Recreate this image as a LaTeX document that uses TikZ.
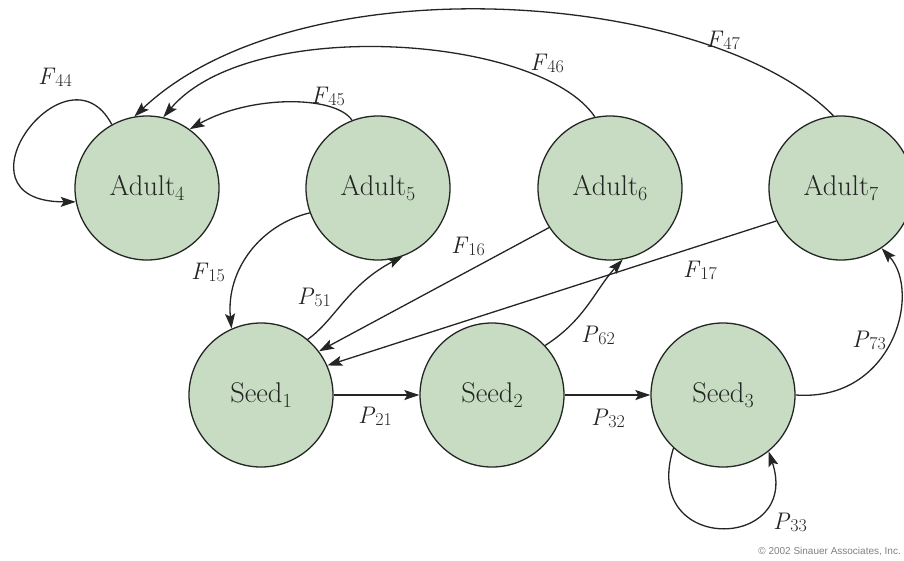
\documentclass[tikz,border=0pt]{standalone}
\usepackage{fontspec}
\newfontfamily\copyfont{Liberation Sans}
\usetikzlibrary{arrows.meta}
\definecolor{nodefill}{RGB}{200,220,196}
\definecolor{ink}{RGB}{35,38,35}
\newcommand{\mylab}[2]{{\fontsize{24}{27}\selectfont\itshape #1\/}\raisebox{-0.45ex}{\fontsize{18}{18}\selectfont #2}}
\newcommand{\mynm}[2]{#1\raisebox{-0.4ex}{\fontsize{20}{20}\selectfont #2}}
\begin{document}
\begin{tikzpicture}[x=1pt,y=-1pt,
  state/.style={circle, draw=ink, fill=nodefill, line width=1.3pt, minimum size=144pt, inner sep=0pt, font=\fontsize{28.5}{31}\selectfont, text=ink},
  conn/.style={draw=ink, line width=1.3pt, -{Stealth[length=15pt,width=10pt,inset=3pt]}},
  lbl/.style={text=ink, inner sep=0pt}]
\useasboundingbox (0,0) rectangle (904,560);
\fill[white] (0,0) rectangle (904,560);
% states
\node[state] (A4) at (147,188) {\mynm{Adult}{4}};
\node[state] (A5) at (378,188) {\mynm{Adult}{5}};
\node[state] (A6) at (610,188) {\mynm{Adult}{6}};
\node[state] (A7) at (841,188) {\mynm{Adult}{7}};
\node[state] (S1) at (261,395) {\mynm{Seed}{1}};
\node[state] (S2) at (492,395) {\mynm{Seed}{2}};
\node[state] (S3) at (723,395) {\mynm{Seed}{3}};
% connectors
\draw[conn] (A4.119) .. controls +(-45,-85) and +(-130,0) .. (A4.191);
\draw[conn] (A5.111) .. controls (335,95) and (250,95) .. (A4.54);
\draw[conn] (A6.102) .. controls (540,35) and (250,15) .. (A4.77);
\draw[conn] (A7.96) .. controls (710,-10) and (300,-40) .. (A4.100);
\draw[conn] (A5.200) .. controls (260,225) and (226,270) .. (S1.114);
\draw[conn] (S1.50) .. controls (335,320) and (348,285) .. (A5.290);
\draw[conn] (A6.213) -- (S1.37);
\draw[conn] (A7.207) -- (S1.24);
\draw[conn] (S1.east) -- (S2.west);
\draw[conn] (S2.43) .. controls (585,320) and (595,290) .. (A6.280);
\draw[conn] (S2.east) -- (S3.west);
\draw[conn] (S3.east) .. controls (893,402) and (922,292) .. (A7.304);
\draw[conn] (S3.227) .. controls +(-34,107) and +(33,100) .. (S3.309);
% labels
\node[lbl] (lF44) at (55,77) {\mylab{F}{44}};
\node[lbl] (lF45) at (328,96) {\mylab{F}{45}};
\node[lbl] (lF46) at (547,63) {\mylab{F}{46}};
\node[lbl] (lF47) at (723,40) {\mylab{F}{47}};
\node[lbl] (lF15) at (208,272) {\mylab{F}{15}};
\node[lbl] (lP51) at (314,297) {\mylab{P}{51}};
\node[lbl] (lF16) at (468,246) {\mylab{F}{16}};
\node[lbl] (lF17) at (700,270) {\mylab{F}{17}};
\node[lbl] (lP62) at (598,335) {\mylab{P}{62}};
\node[lbl] (lP73) at (869,340) {\mylab{P}{73}};
\node[lbl] (lP32) at (608,418) {\mylab{P}{32}};
\node[lbl] (lP21) at (375,416) {\mylab{P}{21}};
\node[lbl] (lP33) at (790,522) {\mylab{P}{33}};
\node[anchor=east, inner sep=0pt, text=gray, font=\copyfont\fontsize{10}{12}\selectfont] (cr) at (901,552) {\textcopyright{} 2002 Sinauer Associates, Inc.};
\end{tikzpicture}
\end{document}
